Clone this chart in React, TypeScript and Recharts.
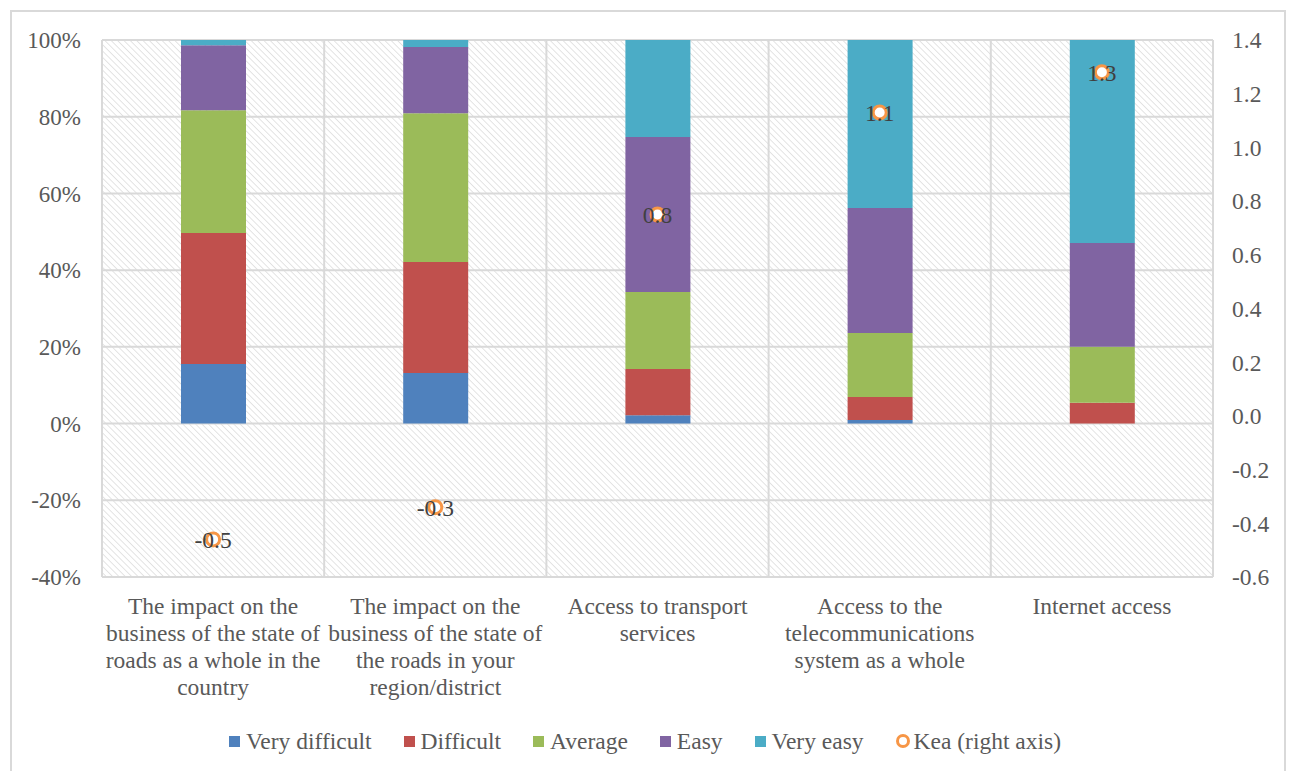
import React from 'react';
import {
  ComposedChart, Bar, Scatter, XAxis, YAxis, CartesianGrid, Legend, LabelList,
} from 'recharts';

const categories = [
  'The impact on the\nbusiness of the state of\nroads as a whole in the\ncountry',
  'The impact on the\nbusiness of the state of\nthe roads in your\nregion/district',
  'Access to transport\nservices',
  'Access to the\ntelecommunications\nsystem as a whole',
  'Internet access',
];

const veryDifficult = [15.5, 13.2, 2.2, 0.9, 0];
const difficult = [34.2, 28.9, 12.0, 6.0, 5.4];
const average = [32.0, 38.8, 20.1, 16.7, 14.6];
const easy = [16.9, 17.3, 40.4, 32.6, 27.1];
const veryEasy = [1.4, 1.8, 25.3, 43.8, 52.9];
const kea = [-0.46, -0.34, 0.75, 1.13, 1.28];

const leftTicks = [-40, -20, 0, 20, 40, 60, 80, 100];
const rightTicks = [-0.6, -0.4, -0.2, 0.0, 0.2, 0.4, 0.6, 0.8, 1.0, 1.2, 1.4];

const series = [
  { key: 'vd', name: 'Very difficult', color: '#4F81BD' },
  { key: 'd', name: 'Difficult', color: '#C0504D' },
  { key: 'a', name: 'Average', color: '#9BBB59' },
  { key: 'e', name: 'Easy', color: '#8064A2' },
  { key: 've', name: 'Very easy', color: '#4BACC6' },
];

const data = categories.map((cat, i) => ({
  cat,
  vd: veryDifficult[i],
  d: difficult[i],
  a: average[i],
  e: easy[i],
  ve: veryEasy[i],
  kea: kea[i],
}));

const FONT = '"Liberation Serif", "DejaVu Serif", serif';
const TEXT = '#595959';

const CatTick = ({ x, y, payload }: any) => {
  const lines = String(payload.value).split('\n');
  return (
    <text x={x} y={y} textAnchor="middle" fill={TEXT} fontSize={23.5} style={{ fontFamily: FONT }}>
      {lines.map((l, i) => (
        <tspan key={i} x={x} dy={i === 0 ? 37 : 27}>{l}</tspan>
      ))}
    </text>
  );
};

const KeaDot = ({ cx, cy }: any) => (
  <circle cx={cx} cy={cy} r={6.5} fill="#fff" stroke="#F79646" strokeWidth={3} />
);

const LegendContent = () => (
  <div style={{ display: 'flex', justifyContent: 'center', alignItems: 'center', height: 26, fontFamily: FONT, fontSize: 23.5, color: TEXT }}>
    {series.map((s) => (
      <div key={s.key} style={{ display: 'flex', alignItems: 'center', marginRight: 32 }}>
        <span style={{ display: 'inline-block', width: 11, height: 11, background: s.color, marginRight: 6 }} />
        <span>{s.name}</span>
      </div>
    ))}
    <div style={{ display: 'flex', alignItems: 'center' }}>
      <span style={{ display: 'inline-block', width: 8, height: 8, borderRadius: '50%', border: '3px solid #F79646', marginRight: 4 }} />
      <span>Kea (right axis)</span>
    </div>
  </div>
);

const leftTickStyle = { fill: TEXT, fontSize: 23, style: { fontFamily: FONT } };
const rightTickStyle = { fill: TEXT, fontSize: 23.5, style: { fontFamily: FONT } };

// vertical grid lines sit on the category boundaries
const verticalLines = ({ offset }: any) =>
  categories.map((_, i) => offset.left + (offset.width * i) / categories.length).concat(offset.left + offset.width);

export default function App() {
  return (
    <div style={{ position: 'absolute', left: 0, top: 0, width: 1290, height: 771, overflow: 'hidden', background: '#fff', fontFamily: FONT }}>
      <div style={{ position: 'absolute', left: 10, top: 10, width: 1276, height: 800, border: '2px solid #d9d9d9', boxSizing: 'border-box' }} />
      <div style={{ position: 'absolute', left: 0, top: 0 }}>
        <ComposedChart width={1290} height={771} data={data} margin={{ top: 40, right: 0, bottom: 17, left: 0 }}>
          <defs>
            <pattern id="hatch" patternUnits="userSpaceOnUse" width={4.5} height={4.5} patternTransform="rotate(-45)">
              <rect width={4.5} height={4.5} fill="#ffffff" />
              <line x1={0} y1={0} x2={0} y2={4.5} stroke="#d6d6d6" strokeWidth={1.3} />
            </pattern>
          </defs>
          <XAxis
            xAxisId="cat"
            dataKey="cat"
            interval={0}
            axisLine={false}
            tickLine={false}
            tickSize={0}
            tickMargin={0}
            height={151}
            tick={<CatTick />}
          />
          <YAxis
            yAxisId="left"
            domain={[-40, 100]}
            ticks={leftTicks}
            tickFormatter={(v: number) => `${v}%`}
            width={102}
            axisLine={false}
            tickLine={false}
            tickSize={0}
            tickMargin={21}
            tick={leftTickStyle}
          />
          <YAxis
            yAxisId="right"
            orientation="right"
            domain={[-0.6, 1.4]}
            ticks={rightTicks}
            tickFormatter={(v: number) => v.toFixed(1)}
            width={77}
            axisLine={false}
            tickLine={false}
            tickSize={0}
            tickMargin={19}
            tick={rightTickStyle}
          />
          <CartesianGrid
            xAxisId="cat"
            yAxisId="left"
            stroke="#d9d9d9"
            strokeWidth={2}
            fill="url(#hatch)"
            fillOpacity={1}
            verticalCoordinatesGenerator={verticalLines}
          />
          {series.map((s) => (
            <Bar
              key={s.key}
              xAxisId="cat"
              yAxisId="left"
              dataKey={s.key}
              name={s.name}
              stackId="stack"
              fill={s.color}
              barSize={65}
              isAnimationActive={false}
            />
          ))}
          <Scatter
            xAxisId="cat"
            yAxisId="right"
            dataKey="kea"
            name="Kea (right axis)"
            shape={<KeaDot />}
            isAnimationActive={false}
          >
            <LabelList
              dataKey="kea"
              position="center"
              formatter={(v: any) => Number(v).toFixed(1)}
              fill="#404040"
              fontSize={23.5}
              style={{ fontFamily: FONT }}
            />
          </Scatter>
          <Legend verticalAlign="bottom" height={26} content={<LegendContent />} />
        </ComposedChart>
      </div>
    </div>
  );
}
